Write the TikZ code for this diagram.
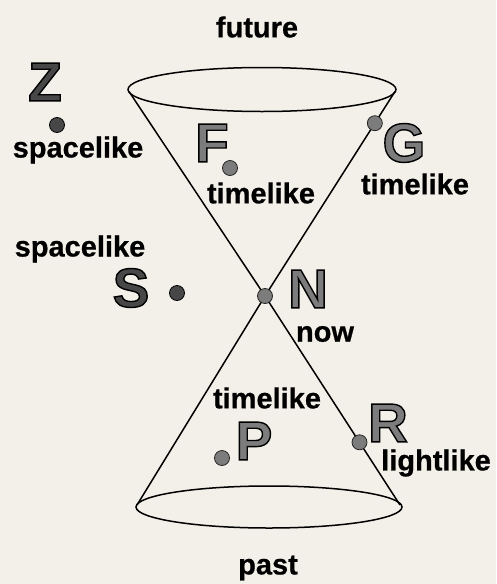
\documentclass[tikz,border=0pt]{standalone}
\usepackage{fontspec}
\setmainfont{Liberation Sans}
\newfontfamily\lblfont{Liberation Sans Bold}[FakeBold=0.6]
\newfontfamily\bigfont{Liberation Sans Bold}
\usetikzlibrary{calc}
\definecolor{paper}{HTML}{F2F0E8}
\definecolor{darkfill}{HTML}{474747}
\definecolor{grayfill}{HTML}{7C7C7C}
\newcommand{\outl}[1]{\special{pdf:literal direct 2 Tr 1.4 w 0 0 0 RG}#1\special{pdf:literal direct 0 Tr}}
\begin{document}
\begin{tikzpicture}[x=1pt,y=-1pt,
  lbl/.style={font=\fontsize{29}{29}\lblfont, inner sep=0pt, text=black},
  bigdark/.style={font=\fontsize{55}{55}\bigfont, inner sep=0pt, text=darkfill},
  biggray/.style={font=\fontsize{55}{55}\bigfont, inner sep=0pt, text=grayfill},
  darkdot/.style={circle, fill=darkfill, draw=black, line width=0.8pt, minimum size=15pt, inner sep=0pt},
  graydot/.style={circle, fill=grayfill, draw=black!85, line width=0.8pt, minimum size=15pt, inner sep=0pt},
  cone/.style={draw=black, line width=1.5pt}]
\fill[paper] (0,0) rectangle (496,584);
\useasboundingbox (0,0) rectangle (496,584);
% cones
\coordinate (topc) at (262,89.5);
\coordinate (botc) at (269,507);
\coordinate (tl) at (129,91.5);
\coordinate (tr) at (395,91.5);
\coordinate (bl) at (137,505);
\coordinate (br) at (400,505);
\coordinate (apex) at (265,296);
\draw[cone] (topc) ellipse [x radius=134, y radius=22];
\draw[cone] (botc) ellipse [x radius=133, y radius=21];
\draw[cone] (tl) -- (apex) -- (tr);
\draw[cone] (bl) -- (apex) -- (br);
% labels
\node[lbl] (future) at (257,27) {future};
\node[lbl] (past) at (268,568) {past};
\node[bigdark] (Z) at (45,82) {\outl{Z}};
\node[darkdot] (zdot) at (57,125) {};
\node[lbl] (sp1) at (78,150) {spacelike};
\node[biggray] (F) at (212,143) {\outl{F}};
\node[graydot] (fdot) at (230,168) {};
\node[lbl] (tl1) at (261,193) {timelike};
\node[biggray] (G) at (404,143) {\outl{G}};
\node[graydot] (gdot) at ($(tr)!0.155!(apex)$) {};
\node[lbl] (tl2) at (415,184) {timelike};
\node[lbl] (sp2) at (80,249) {spacelike};
\node[bigdark] (S) at (131,288) {\outl{S}};
\node[darkdot] (sdot) at (177,293) {};
\node[graydot] (ndot) at (apex) {};
\node[biggray] (N) at (308,289) {\outl{N}};
\node[lbl] (now) at (325,334) {now};
\node[lbl] (tl3) at (267,398) {timelike};
\node[biggray] (P) at (254,441) {\outl{P}};
\node[graydot] (pdot) at (222,458) {};
\node[biggray] (R) at (388,423) {\outl{R}};
\node[graydot] (rdot) at ($(apex)!0.7!(br)$) {};
\node[lbl] (light) at (436,463) {lightlike};
\end{tikzpicture}
\end{document}
